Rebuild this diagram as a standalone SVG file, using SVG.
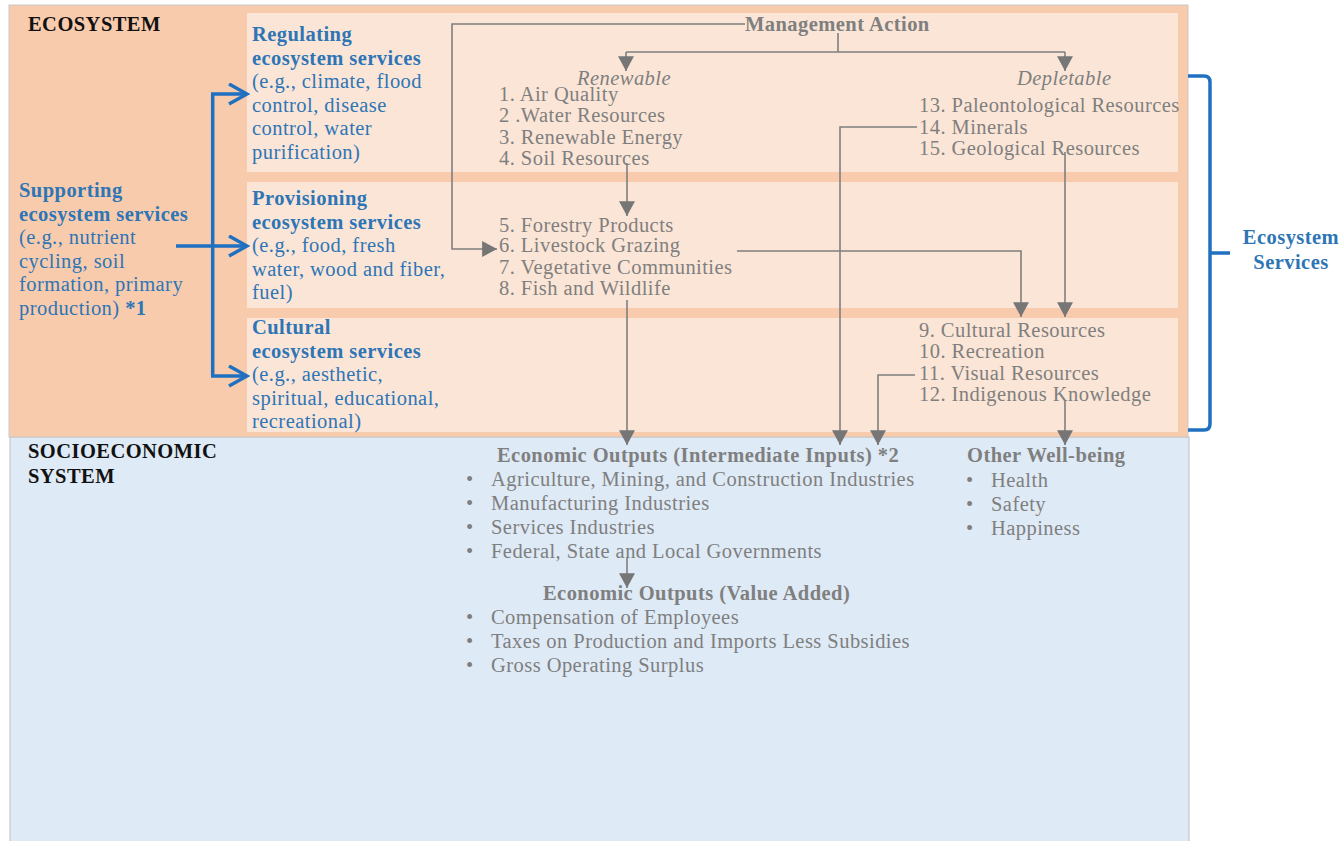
<svg xmlns="http://www.w3.org/2000/svg" width="1342" height="841" viewBox="0 0 1342 841">
<style>
text{font-family:"Liberation Serif","Times New Roman",serif;font-size:20.5px;letter-spacing:0.45px}
.h{font-weight:bold;fill:#111}
.b{fill:#2E75B6}
.bb{fill:#2E75B6;font-weight:bold}
.g{fill:#7F7F7F}
.gb{fill:#7F7F7F;font-weight:bold}
.gi{fill:#7F7F7F;font-style:italic}
.gl{fill:none;stroke:#7F7F7F;stroke-width:1.6}
.bl{fill:none;stroke:#1F70C1;stroke-width:3.5}
</style>
<defs>
<marker id="ga" markerUnits="userSpaceOnUse" markerWidth="16" markerHeight="16" refX="13" refY="7" orient="auto" viewBox="0 0 14 14">
<path d="M0,0 L13,7 L0,14 z" fill="#767676"/>
</marker>
<marker id="ba" markerUnits="userSpaceOnUse" markerWidth="22" markerHeight="24" refX="19" refY="11" orient="auto" viewBox="0 0 22 24">
<path d="M1,1 L19,11 L1,21" fill="none" stroke="#1F70C1" stroke-width="3.5"/>
</marker>
</defs>
<rect width="1342" height="841" fill="#ffffff"/>
<g id="socioeconomic">
<rect x="10" y="437" width="1179" height="410" fill="#DEEAF6" stroke="#BFBFBF" stroke-width="1"/>
<text class="h" x="28" y="458">SOCIOECONOMIC</text>
<text class="h" x="28" y="483">SYSTEM</text>
</g>
<g id="ecosystem">
<rect x="9" y="5" width="1179" height="432" fill="#F8CBAD" stroke="#C9C9C9" stroke-width="1"/>
<text class="h" x="28" y="31">ECOSYSTEM</text>
</g>
<g id="regulating">
<rect x="247" y="13" width="931" height="159" fill="#FBE5D6"/>
<text x="252" y="41"><tspan class="bb">Regulating</tspan><tspan class="bb" x="252" dy="23.5">ecosystem services</tspan><tspan class="b" x="252" dy="23.5">(e.g., climate, flood</tspan><tspan class="b" x="252" dy="23.5">control, disease</tspan><tspan class="b" x="252" dy="23.5">control, water</tspan><tspan class="b" x="252" dy="23.5">purification)</tspan></text>
</g>
<g id="provisioning">
<rect x="247" y="182" width="931" height="126" fill="#FBE5D6"/>
<text x="252" y="205"><tspan class="bb">Provisioning</tspan><tspan class="bb" x="252" dy="23.5">ecosystem services</tspan><tspan class="b" x="252" dy="23.5">(e.g., food, fresh</tspan><tspan class="b" x="252" dy="23.5">water, wood and fiber,</tspan><tspan class="b" x="252" dy="23.5">fuel)</tspan></text>
</g>
<g id="cultural">
<rect x="247" y="318" width="931" height="114" fill="#FBE5D6"/>
<text x="252" y="334"><tspan class="bb">Cultural</tspan><tspan class="bb" x="252" dy="23.5">ecosystem services</tspan><tspan class="b" x="252" dy="23.5">(e.g., aesthetic,</tspan><tspan class="b" x="252" dy="23.5">spiritual, educational,</tspan><tspan class="b" x="252" dy="23.5">recreational)</tspan></text>
</g>
<g id="supporting">
<text x="19" y="197"><tspan class="bb">Supporting</tspan><tspan class="bb" x="19" dy="23.6">ecosystem services</tspan><tspan class="b" x="19" dy="23.6">(e.g., nutrient</tspan><tspan class="b" x="19" dy="23.6">cycling, soil</tspan><tspan class="b" x="19" dy="23.6">formation, primary</tspan><tspan class="b" x="19" dy="23.6">production) </tspan><tspan class="bb">*1</tspan></text>
</g>
<g id="management-action">
<text class="gb" x="745" y="31">Management Action</text>
</g>
<g id="renewable">
<text class="gi" x="577" y="85">Renewable</text>
<text class="g" x="499" y="101">1. Air Quality</text>
<text class="g" x="499" y="122">2 .Water Resources</text>
<text class="g" x="499" y="144">3. Renewable Energy</text>
<text class="g" x="499" y="165">4. Soil Resources</text>
</g>
<g id="depletable">
<text class="gi" x="1017" y="85">Depletable</text>
<text class="g" x="919" y="112">13. Paleontological Resources</text>
<text class="g" x="919" y="134">14. Minerals</text>
<text class="g" x="919" y="155">15. Geological Resources</text>
</g>
<g id="provisioning-items">
<text class="g" x="499" y="232">5. Forestry Products</text>
<text class="g" x="499" y="252">6. Livestock Grazing</text>
<text class="g" x="499" y="274">7. Vegetative Communities</text>
<text class="g" x="499" y="295">8. Fish and Wildlife</text>
</g>
<g id="cultural-items">
<text class="g" x="919" y="337">9. Cultural Resources</text>
<text class="g" x="919" y="358">10. Recreation</text>
<text class="g" x="919" y="380">11. Visual Resources</text>
<text class="g" x="919" y="401">12. Indigenous Knowledge</text>
</g>
<g id="economic-intermediate">
<text class="gb" x="497" y="462">Economic Outputs (Intermediate Inputs) *2</text>
<g class="g">
<text x="466" y="486">•</text><text x="491" y="486">Agriculture, Mining, and  Construction Industries</text>
<text x="466" y="510">•</text><text x="491" y="510">Manufacturing Industries</text>
<text x="466" y="534">•</text><text x="491" y="534">Services Industries</text>
<text x="466" y="558">•</text><text x="491" y="558">Federal, State and Local Governments</text>
</g>
</g>
<g id="economic-value-added">
<text class="gb" x="543" y="600">Economic Outputs (Value Added)</text>
<g class="g">
<text x="466" y="624">•</text><text x="491" y="624">Compensation of Employees</text>
<text x="466" y="648">•</text><text x="491" y="648">Taxes on Production and Imports Less Subsidies</text>
<text x="466" y="672">•</text><text x="491" y="672">Gross Operating Surplus</text>
</g>
</g>
<g id="other-wellbeing">
<text class="gb" x="967" y="462">Other Well-being</text>
<g class="g">
<text x="966" y="487">•</text><text x="991" y="487">Health</text>
<text x="966" y="511">•</text><text x="991" y="511">Safety</text>
<text x="966" y="535">•</text><text x="991" y="535">Happiness</text>
</g>
</g>
<g id="ecosystem-services-label">
<path class="bl" d="M1188,76 H1204 Q1210,76 1210,82 V424 Q1210,430 1204,430 H1188 M1210,253 H1230" stroke-width="4"/>
<text class="bb" x="1291" y="244" text-anchor="middle">Ecosystem</text>
<text class="bb" x="1291" y="269" text-anchor="middle">Services</text>
</g>
<g id="connectors">
<path class="bl" d="M176,246 H247" marker-end="url(#ba)"/>
<path class="bl" d="M212.7,94 V376"/>
<path class="bl" d="M211,94 H247" marker-end="url(#ba)"/>
<path class="bl" d="M211,376 H247" marker-end="url(#ba)"/>
<path class="gl" d="M745,24 H452 V249 H497" marker-end="url(#ga)"/>
<path class="gl" d="M838,33 V52"/>
<path class="gl" d="M626,52 H1065"/>
<path class="gl" d="M626,52 V71" marker-end="url(#ga)"/>
<path class="gl" d="M1065,52 V71" marker-end="url(#ga)"/>
<path class="gl" d="M627,163 V216" marker-end="url(#ga)"/>
<path class="gl" d="M917,127 H840 V445" marker-end="url(#ga)"/>
<path class="gl" d="M1065,152 V317" marker-end="url(#ga)"/>
<path class="gl" d="M737,251 H1021 V317" marker-end="url(#ga)"/>
<path class="gl" d="M627,300 V445" marker-end="url(#ga)"/>
<path class="gl" d="M915,375 H878 V445" marker-end="url(#ga)"/>
<path class="gl" d="M1065,400 V445" marker-end="url(#ga)"/>
<path class="gl" d="M627,558 V588" marker-end="url(#ga)"/>
</g>
</svg>
